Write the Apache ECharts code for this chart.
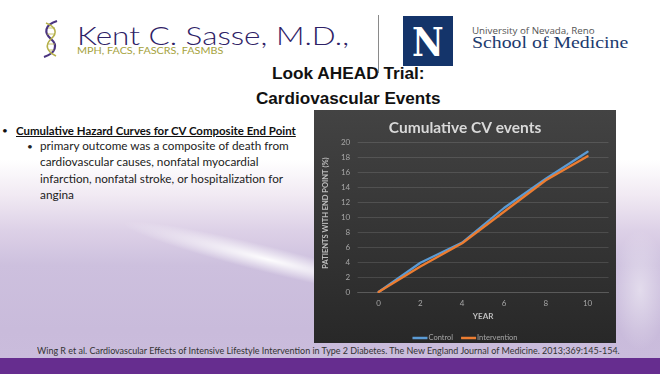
<!DOCTYPE html>
<html>
<head>
<meta charset="utf-8">
<script src="https://cdn.jsdelivr.net/npm/echarts@6/dist/echarts.min.js"></script>
<style>
  html, body { margin:0; padding:0; }
  body { width:660px; height:374px; overflow:hidden; position:relative;
    background: linear-gradient(180deg, #ffffff 0px, #ffffff 160px, #f1eaf3 195px, #ddd1e7 230px, #cdc0de 265px, #c9bbdb 330px, #cabcdc 358px); }
  .abs { position:absolute; }
  .t { position:absolute; white-space:nowrap; line-height:1; transform-origin:left center; }
  #swoosh { position:absolute; left:60px; top:215px; width:300px; height:60px;
    background: radial-gradient(ellipse 50% 22% at 70% 50%, rgba(255,255,255,0.95), rgba(255,255,255,0) 100%);
    transform: rotate(14deg); }
  #swoosh2 { position:absolute; left:600px; top:230px; width:80px; height:120px;
    background: radial-gradient(ellipse 35% 50% at 50% 50%, rgba(255,255,255,0.45), rgba(255,255,255,0) 100%); }
  #bar { position:absolute; left:0; top:358px; width:660px; height:16px; background:#662d8f; }
  #chart { position:absolute; left:314px; top:110px; width:302px; height:233px; }
  #unr { position:absolute; left:403px; top:16px; width:50px; height:50px; background:#14346a; }
  #sep { position:absolute; left:378px; top:15px; width:1px; height:58px; background:#8a8a8a; }
</style>
</head>
<body>
<div id="swoosh"></div>
<div id="swoosh2"></div>
<div id="bar"></div>
<svg class="abs" style="left:40px;top:19px" width="22" height="40" viewBox="0 0 22 40">
  <path d="M17 2 C4 6, 4 14, 11 20 C18 26, 16 34, 4 38" stroke="#4a3480" stroke-width="2.2" fill="none"/>
  <path d="M6 4 C16 8, 18 14, 11 20 C5 26, 6 32, 16 37" stroke="#b5b04a" stroke-width="1.6" fill="none"/>
  <path d="M8 9 L15 9 M7 15 L15 15 M7 25 L15 25 M8 31 L14 31" stroke="#b5b04a" stroke-width="0.8"/>
</svg>
<div id="sep"></div>
<div id="unr"></div>
<div id="chart"></div>
<script>
// ---- chart data ----
const years = ['0', '2', '4', '6', '8', '10'];
const controlPct = [0, 3.9, 6.6, 11.2, 15.1, 18.7];
const interventionPct = [0, 3.4, 6.5, 10.7, 14.9, 18.1];
const seriesNames = ['Control', 'Intervention'];
const chartTitle = 'Cumulative CV events';
const xAxisName = 'YEAR';
const yAxisName = 'PATIENTS WITH END POINT (%)';

// ---- slide texts ----
function put(txt, o) {
  const el = document.createElement('div');
  el.className = 't';
  el.textContent = txt;
  el.style.fontFamily = o.family || 'Lato';
  el.style.fontSize = o.size + 'px';
  el.style.fontWeight = o.weight || 'normal';
  el.style.color = o.color || '#222';
  if (o.underline) el.style.textDecoration = 'underline';
  document.body.appendChild(el);
  const w = el.offsetWidth, h = el.offsetHeight;
  el.style.top = (o.y - h / 2) + 'px';
  const s = o.w ? o.w / w : 1;
  el.style.transform = 'scaleX(' + s + ')';
  el.style.left = (o.cx !== undefined ? o.cx - o.w / 2 : o.x) + 'px';
  return el;
}
put('Kent C. Sasse, M.D.,', {x:77, w:272, y:35, size:26, family:'Lato', weight:300, color:'#2e2166'});
put('MPH, FACS, FASCRS, FASMBS', {x:77, w:146, y:50, size:10, family:'Lato', color:'#a5a23c'});
put('N', {x:412, w:32, y:42, size:40, family:'DejaVu Serif', weight:'bold', color:'#ffffff'});
put('University of Nevada, Reno', {x:472, w:123, y:31, size:8.5, family:'Open Sans', color:'#555555'});
put('School of Medicine', {x:472, w:156, y:43, size:16, family:'Liberation Serif', color:'#1b3a6e'});
put('Look AHEAD Trial:', {x:272, w:153, y:74, size:16, family:'Liberation Sans', weight:'bold', color:'#111'});
put('Cardiovascular Events', {x:256, w:185, y:99, size:16, family:'Liberation Sans', weight:'bold', color:'#111'});
put('\u2022', {x:2, y:130, size:10, family:'Lato', color:'#111'});
put('Cumulative Hazard Curves for CV Composite End Point', {x:16, w:280, y:130, size:11, family:'Lato', weight:'bold', color:'#111', underline:true});
put('\u2022', {x:27, y:146, size:10, family:'Lato', color:'#222'});
put('primary outcome was a composite of death from', {x:40, w:249, y:146, size:11.5, family:'Lato', color:'#222'});
put('cardiovascular causes, nonfatal myocardial', {x:40, w:218, y:162, size:11.5, family:'Lato', color:'#222'});
put('infarction, nonfatal stroke, or hospitalization for', {x:40, w:243, y:178.5, size:11.5, family:'Lato', color:'#222'});
put('angina', {x:40, w:34, y:194.5, size:11.5, family:'Lato', color:'#222'});
put('Wing R et al. Cardiovascular Effects of Intensive Lifestyle Intervention in Type 2 Diabetes. The New England Journal of Medicine. 2013;369:145-154.',
    {x:37, w:583, y:351, size:8.5, family:'Lato', color:'#333'});

// ---- chart ----
const chart = echarts.init(document.getElementById('chart'));
const lab = {color:'#a6a6a6', fontSize:8, fontFamily:'Lato'};
chart.setOption({
  animation: false,
  backgroundColor: new echarts.graphic.LinearGradient(0, 0, 0, 1, [
    {offset:0, color:'#434343'}, {offset:1, color:'#282828'}]),
  title: {text: chartTitle, left:'center', top:5,
    textStyle:{color:'#d9d9d9', fontSize:15.5, fontWeight:'bold', fontFamily:'Lato'}},
  legend: {data: seriesNames, left:'center', top:219, icon:'rect', itemWidth:15, itemHeight:2.5, itemGap:8,
    textStyle:{color:'#a6a6a6', fontSize:7.5, fontFamily:'Lato', padding:[0,0,0,-4]}},
  grid: {left:36.5, right:7.5, top:32, bottom:51},
  xAxis: {type:'category', data: years, boundaryGap:true,
    axisLine:{lineStyle:{color:'#5a5a5a'}}, axisTick:{show:false},
    axisLabel: Object.assign({margin:7}, lab),
    name: xAxisName, nameLocation:'middle', nameGap:20,
    nameTextStyle:{color:'#bfbfbf', fontSize:8, fontWeight:'bold', fontFamily:'Lato'}},
  yAxis: {type:'value', min:0, max:20, interval:2,
    axisLine:{show:false}, axisTick:{show:false},
    splitLine:{lineStyle:{color:'rgba(255,255,255,0.12)'}},
    axisLabel: Object.assign({margin:7.5}, lab),
    name: yAxisName, nameLocation:'middle', nameGap:18, nameRotate:90,
    nameTextStyle:{color:'#bfbfbf', fontSize:7.5, fontWeight:'bold', fontFamily:'Lato', padding:[0,0,0,8]}},
  series: [
    {name: seriesNames[0], type:'line', data: controlPct, showSymbol:false, symbol:'none',
      lineStyle:{color:'#5b9bd5', width:2.2, cap:'round'}, itemStyle:{color:'#5b9bd5'}},
    {name: seriesNames[1], type:'line', data: interventionPct, showSymbol:false, symbol:'none',
      lineStyle:{color:'#ed7d31', width:2.2, cap:'round'}, itemStyle:{color:'#ed7d31'}}
  ]
});
</script>
</body>
</html>
